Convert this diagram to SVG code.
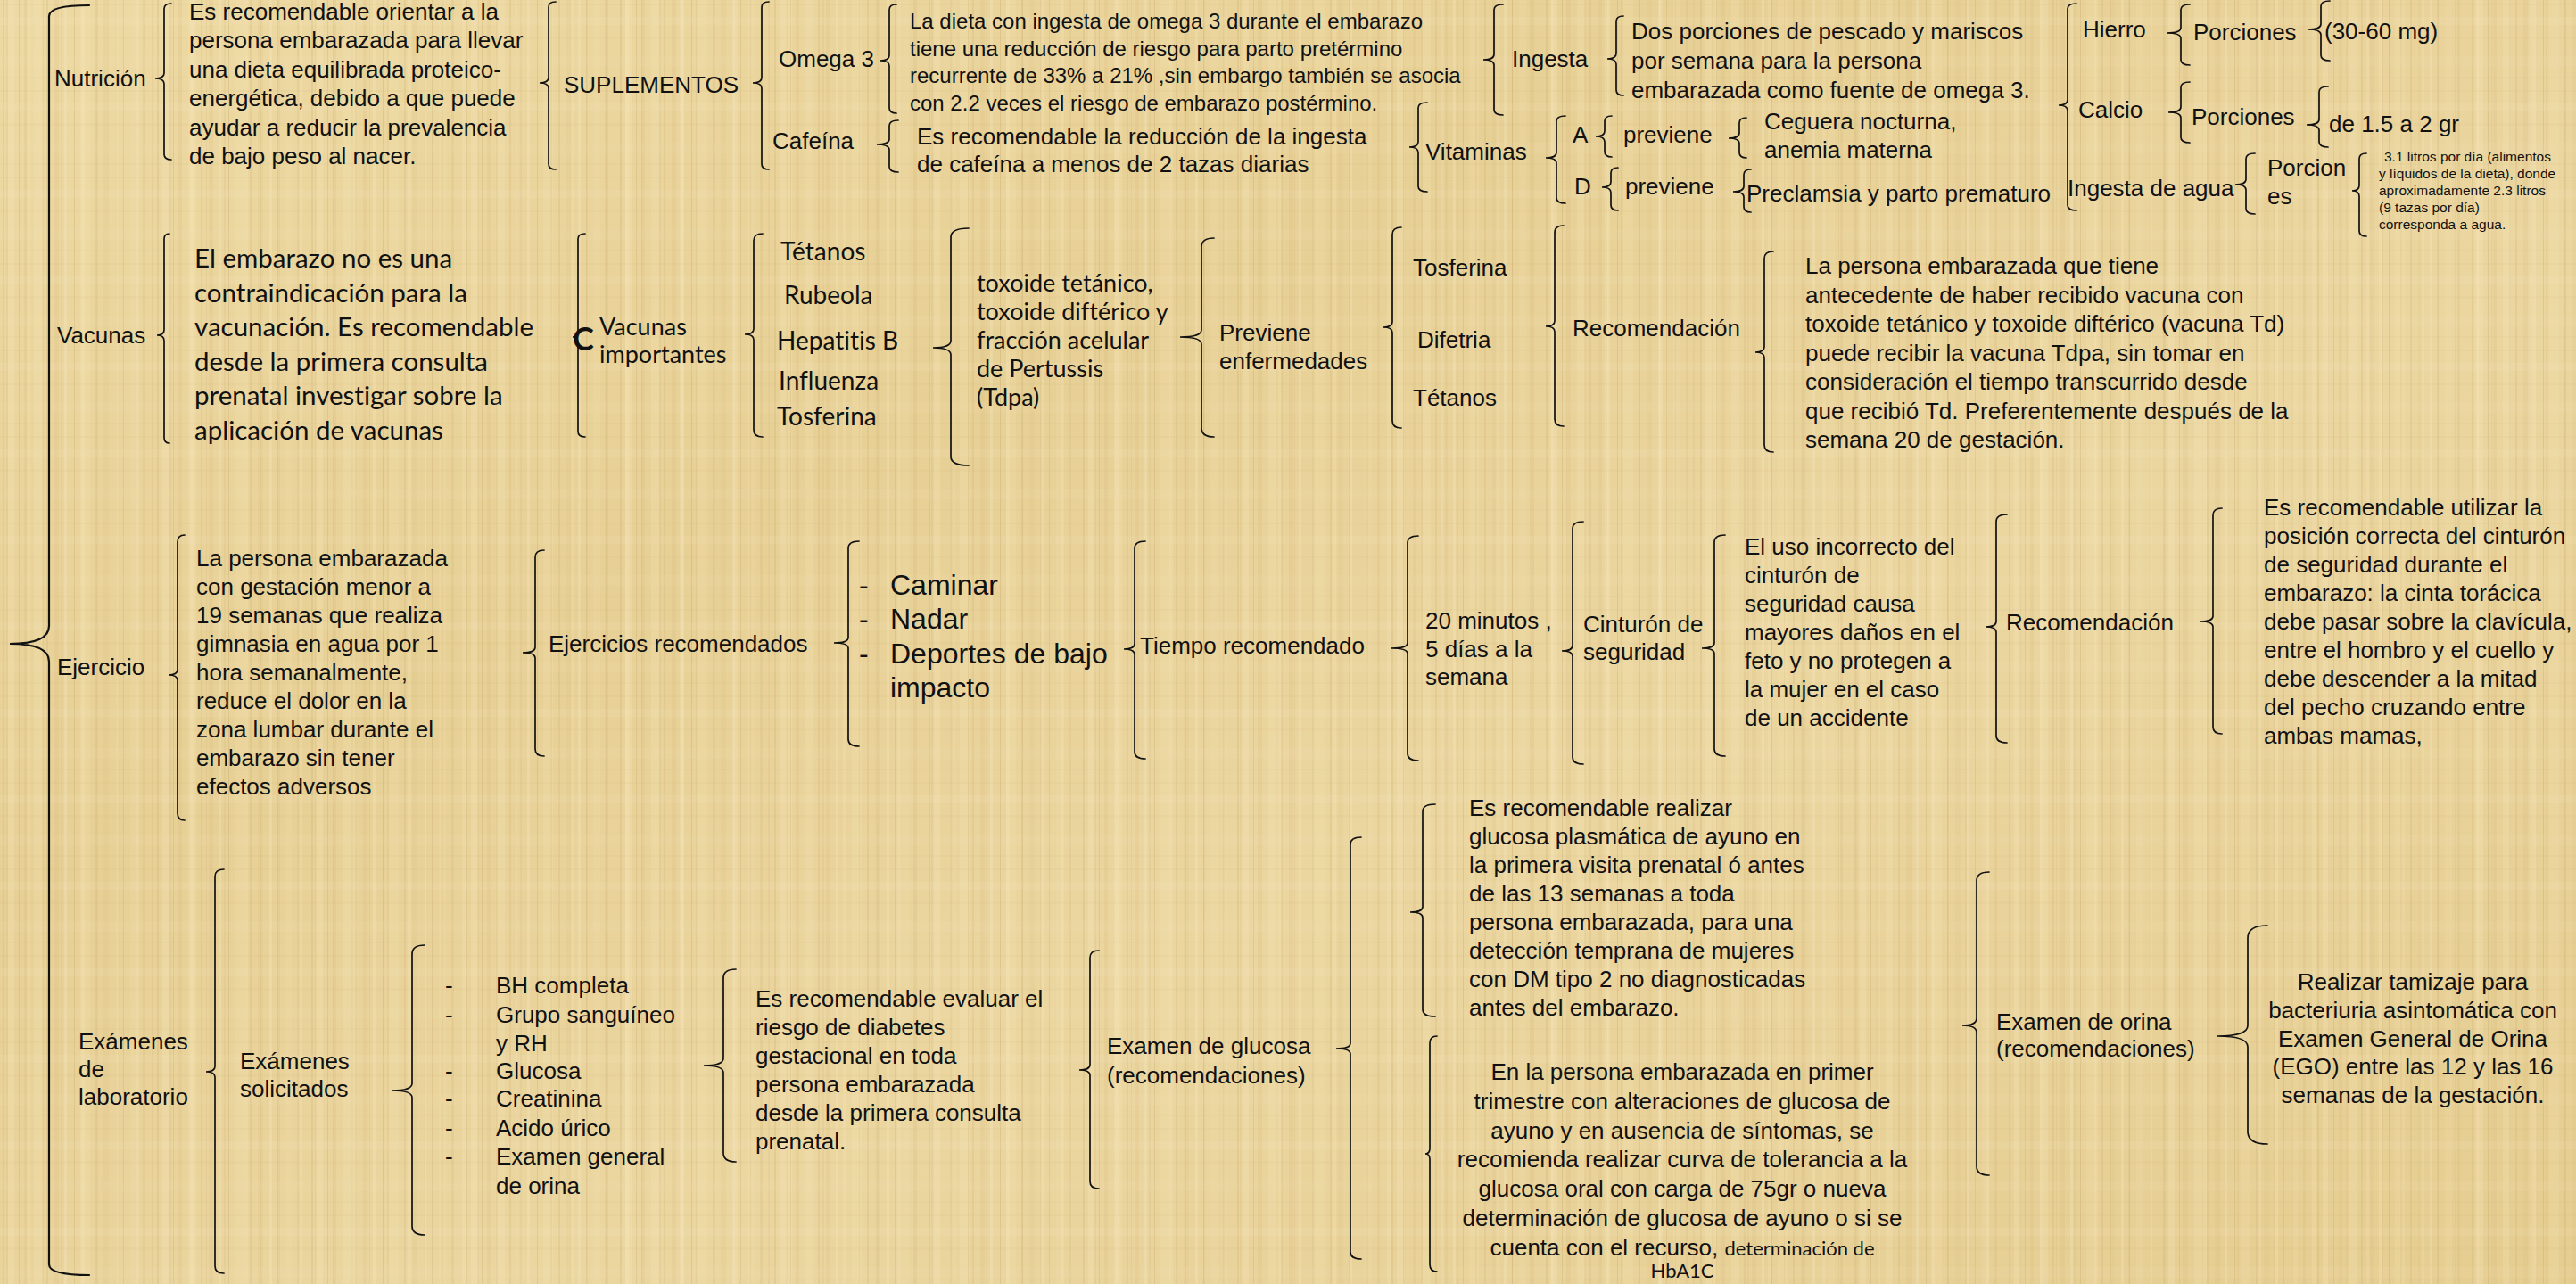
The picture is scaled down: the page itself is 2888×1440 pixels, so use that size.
<svg xmlns="http://www.w3.org/2000/svg" width="2888" height="1440" viewBox="0 0 2888 1440">
<defs>
<pattern id="pv" width="173" height="1440" patternUnits="userSpaceOnUse">
<rect x="3" width="2" height="1440" fill="#B8965A" opacity=".16"/>
<rect x="9" width="7" height="1440" fill="#F5E6BC" opacity=".3"/>
<rect x="21" width="1" height="1440" fill="#A9874D" opacity=".18"/>
<rect x="27" width="4" height="1440" fill="#D2B477" opacity=".18"/>
<rect x="38" width="9" height="1440" fill="#F3E3B5" opacity=".26"/>
<rect x="52" width="2" height="1440" fill="#B89558" opacity=".14"/>
<rect x="61" width="5" height="1440" fill="#CDAE70" opacity=".14"/>
<rect x="72" width="3" height="1440" fill="#F7EAC4" opacity=".3"/>
<rect x="83" width="1" height="1440" fill="#A07E46" opacity=".18"/>
<rect x="90" width="11" height="1440" fill="#F1E0AF" opacity=".24"/>
<rect x="107" width="2" height="1440" fill="#BE9C5F" opacity=".16"/>
<rect x="116" width="6" height="1440" fill="#D6B97D" opacity=".16"/>
<rect x="129" width="3" height="1440" fill="#F6E8C0" opacity=".3"/>
<rect x="138" width="1" height="1440" fill="#A8864C" opacity=".16"/>
<rect x="146" width="8" height="1440" fill="#EEDCA8" opacity=".26"/>
<rect x="160" width="3" height="1440" fill="#C7A769" opacity=".16"/>
</pattern>
<pattern id="pv2" width="61" height="1440" patternUnits="userSpaceOnUse">
<rect x="7" width="2" height="1440" fill="#C2A164" opacity=".1"/>
<rect x="30" width="4" height="1440" fill="#FAF0D0" opacity=".15"/>
<rect x="48" width="1" height="1440" fill="#B08E52" opacity=".1"/>
</pattern>
<pattern id="ph" width="2888" height="97" patternUnits="userSpaceOnUse">
<rect y="4" width="2888" height="2" fill="#B8965A" opacity=".06"/>
<rect y="19" width="2888" height="9" fill="#F8ECC8" opacity=".12"/>
<rect y="41" width="2888" height="3" fill="#C4A366" opacity=".05"/>
<rect y="63" width="2888" height="12" fill="#F5E6BC" opacity=".1"/>
<rect y="86" width="2888" height="2" fill="#B8965A" opacity=".05"/>
</pattern>
<linearGradient id="gl" x1="0" y1="0" x2="1" y2="1">
<stop offset="0" stop-color="#EDD9A3"/>
<stop offset=".35" stop-color="#E7D095"/>
<stop offset=".6" stop-color="#EBD6A0"/>
<stop offset="1" stop-color="#E5CD90"/>
</linearGradient>
<style>
.t{font-family:"Liberation Sans",Arial,sans-serif;font-size:26px;fill:#111}
.s{font-family:"Liberation Sans",Arial,sans-serif;font-size:24px;fill:#111}
.xs{font-family:"Liberation Sans",Arial,sans-serif;font-size:15.5px;fill:#111}
.big{font-family:"Liberation Sans",Arial,sans-serif;font-size:32px;fill:#111}
.c{font-family:Lato,"Open Sans",sans-serif;font-size:29.5px;fill:#111;font-variant-ligatures:none}
.cs{font-family:Lato,"Open Sans",sans-serif;font-size:22px;fill:#111}
.m{text-anchor:middle}
.b{fill:none;stroke:#111;stroke-width:1.7;stroke-linecap:round}
</style>
</defs>
<rect width="2888" height="1440" fill="url(#gl)"/>
<rect width="2888" height="1440" fill="url(#pv)"/>
<rect width="2888" height="1440" fill="url(#pv2)"/>
<rect width="2888" height="1440" fill="url(#ph)"/>

<g id="connectors" class="b">
<path d="M100,6 Q55,6 55,18 L55,702 Q55,722 11,722 Q55,722 55,742 L55,1418 Q55,1430 100,1430" stroke-width="2.2"/>
<path d="M192,4 Q184,4 184,10 L184,82 Q184,88 174,88 Q184,88 184,94 L184,173 Q184,179 192,179"/>
<path d="M623,2 Q615,2 615,8 L615,87 Q615,93 605,93 Q615,93 615,99 L615,184 Q615,190 623,190"/>
<path d="M862,2 Q854,2 854,8 L854,87 Q854,93 844,93 Q854,93 854,99 L854,184 Q854,190 862,190"/>
<path d="M1005,5 Q997,5 997,11 L997,62 Q997,68 987,68 Q997,68 997,74 L997,121 Q997,127 1005,127"/>
<path d="M1007,135 Q997,135 997,141 L997,156 Q997,162 983,162 Q997,162 997,168 L997,187 Q997,193 1007,193"/>
<path d="M1685,5 Q1675,5 1675,11 L1675,61 Q1675,67 1663,67 Q1675,67 1675,73 L1675,123 Q1675,129 1685,129"/>
<path d="M1820,18 Q1812,18 1812,24 L1812,60 Q1812,66 1802,66 Q1812,66 1812,72 L1812,101 Q1812,107 1820,107"/>
<path d="M1600,115 Q1590,115 1590,121 L1590,159 Q1590,165 1580,165 Q1590,165 1590,171 L1590,209 Q1590,215 1600,215"/>
<path d="M1755,130 Q1745,130 1745,136 L1745,171 Q1745,177 1733,177 Q1745,177 1745,183 L1745,222 Q1745,228 1755,228"/>
<path d="M1807,130 Q1799,130 1799,136 L1799,147 Q1799,153 1789,153 Q1799,153 1799,159 L1799,170 Q1799,176 1807,176"/>
<path d="M1958,132 Q1950,132 1950,138 L1950,149 Q1950,155 1938,155 Q1950,155 1950,161 L1950,171 Q1950,177 1958,177"/>
<path d="M1814,188 Q1806,188 1806,194 L1806,204 Q1806,210 1796,210 Q1806,210 1806,216 L1806,230 Q1806,236 1814,236"/>
<path d="M1963,190 Q1955,190 1955,196 L1955,209 Q1955,215 1943,215 Q1955,215 1955,221 L1955,232 Q1955,238 1963,238"/>
<path d="M2328,4 Q2318,4 2318,10 L2318,112 Q2318,118 2308,118 Q2318,118 2318,124 L2318,230 Q2318,236 2328,236"/>
<path d="M2455,5 Q2445,5 2445,11 L2445,31 Q2445,37 2429,37 Q2445,37 2445,43 L2445,67 Q2445,73 2455,73"/>
<path d="M2612,1 Q2602,1 2602,7 L2602,27 Q2602,33 2588,33 Q2602,33 2602,39 L2602,62 Q2602,68 2612,68"/>
<path d="M2455,92 Q2445,92 2445,98 L2445,120 Q2445,126 2431,126 Q2445,126 2445,132 L2445,154 Q2445,160 2455,160"/>
<path d="M2610,97 Q2600,97 2600,103 L2600,134 Q2600,140 2586,140 Q2600,140 2600,146 L2600,159 Q2600,165 2610,165"/>
<path d="M2528,172 Q2518,172 2518,178 L2518,201 Q2518,207 2506,207 Q2518,207 2518,213 L2518,234 Q2518,240 2528,240"/>
<path d="M2653,172 Q2645,172 2645,178 L2645,208 Q2645,214 2637,214 Q2645,214 2645,220 L2645,259 Q2645,265 2653,265"/>

<path d="M190,262 Q184,262 184,268 L184,370 Q184,376 176,376 Q184,376 184,382 L184,491 Q184,497 190,497"/>
<path d="M656,262 Q648,262 648,268 L648,372 Q648,378 642,378 Q648,378 648,384 L648,484 Q648,490 656,490"/>
<path d="M855,262 Q845,262 845,270 L845,369 Q845,375 835,375 Q845,375 845,381 L845,482 Q845,490 855,490"/>
<path d="M1086,256 Q1066,256 1066,266 L1066,382 Q1066,390 1046,390 Q1066,390 1066,398 L1066,512 Q1066,522 1086,522"/>
<path d="M1361,267 Q1347,267 1347,277 L1347,370 Q1347,378 1323,378 Q1347,378 1347,386 L1347,480 Q1347,490 1361,490"/>
<path d="M1571,255 Q1561,255 1561,263 L1561,361 Q1561,367 1551,367 Q1561,367 1561,373 L1561,472 Q1561,480 1571,480"/>
<path d="M1753,253 Q1743,253 1743,261 L1743,360 Q1743,366 1733,366 Q1743,366 1743,372 L1743,470 Q1743,478 1753,478"/>
<path d="M1988,282 Q1978,282 1978,290 L1978,389 Q1978,395 1968,395 Q1978,395 1978,401 L1978,499 Q1978,507 1988,507"/>

<path d="M207,600 Q199,600 199,608 L199,751 Q199,757 189,757 Q199,757 199,763 L199,912 Q199,920 207,920"/>
<path d="M610,617 Q600,617 600,625 L600,726 Q600,732 586,732 Q600,732 600,738 L600,840 Q600,848 610,848"/>
<path d="M963,607 Q951,607 951,615 L951,715 Q951,721 935,721 Q951,721 951,727 L951,829 Q951,837 963,837"/>
<path d="M1284,607 Q1272,607 1272,615 L1272,722 Q1272,728 1260,728 Q1272,728 1272,734 L1272,843 Q1272,851 1284,851"/>
<path d="M1590,601 Q1578,601 1578,609 L1578,721 Q1578,727 1560,727 Q1578,727 1578,733 L1578,845 Q1578,853 1590,853"/>
<path d="M1775,585 Q1763,585 1763,593 L1763,724 Q1763,730 1751,730 Q1763,730 1763,736 L1763,849 Q1763,857 1775,857"/>
<path d="M1934,600 Q1922,600 1922,608 L1922,721 Q1922,727 1908,727 Q1922,727 1922,733 L1922,840 Q1922,848 1934,848"/>
<path d="M2250,577 Q2238,577 2238,585 L2238,697 Q2238,703 2226,703 Q2238,703 2238,709 L2238,825 Q2238,833 2250,833"/>
<path d="M2491,570 Q2481,570 2481,578 L2481,691 Q2481,697 2467,697 Q2481,697 2481,703 L2481,815 Q2481,823 2491,823"/>

<path d="M251,975 Q241,975 241,983 L241,1196 Q241,1202 231,1202 Q241,1202 241,1208 L241,1420 Q241,1428 251,1428"/>
<path d="M476,1060 Q462,1060 462,1070 L462,1215 Q462,1223 440,1223 Q462,1223 462,1231 L462,1375 Q462,1385 476,1385"/>
<path d="M825,1087 Q811,1087 811,1097 L811,1187 Q811,1195 789,1195 Q811,1195 811,1203 L811,1293 Q811,1303 825,1303"/>
<path d="M1232,1066 Q1222,1066 1222,1074 L1222,1194 Q1222,1200 1210,1200 Q1222,1200 1222,1206 L1222,1325 Q1222,1333 1232,1333"/>
<path d="M1526,939 Q1514,939 1514,947 L1514,1170 Q1514,1176 1498,1176 Q1514,1176 1514,1182 L1514,1404 Q1514,1412 1526,1412"/>
<path d="M1609,902 Q1595,902 1595,910 L1595,1017 Q1595,1023 1581,1023 Q1595,1023 1595,1029 L1595,1132 Q1595,1140 1609,1140"/>
<path d="M1611,1162 Q1603,1162 1603,1170 L1603,1288 Q1603,1294 1598,1294 Q1603,1294 1603,1300 L1603,1418 Q1603,1426 1611,1426"/>
<path d="M2230,978 Q2216,978 2216,988 L2216,1142 Q2216,1150 2200,1150 Q2216,1150 2216,1158 L2216,1308 Q2216,1318 2230,1318"/>
<path d="M2542,1038 Q2520,1038 2520,1052 L2520,1150 Q2520,1162 2486,1162 Q2520,1162 2520,1174 L2520,1269 Q2520,1283 2542,1283"/>
</g>

<g id="n-nutricion"><text class="t" x="61" y="97">Nutrición</text></g>
<g id="n-nutricion-desc"><text class="t" x="212" y="22"><tspan x="212">Es recomendable orientar a la</tspan><tspan x="212" dy="32.4">persona embarazada para llevar</tspan><tspan x="212" dy="32.4">una dieta equilibrada proteico-</tspan><tspan x="212" dy="32.4">energética, debido a que puede</tspan><tspan x="212" dy="32.4">ayudar a reducir la prevalencia</tspan><tspan x="212" dy="32.4">de bajo peso al nacer.</tspan></text></g>
<g id="n-suplementos"><text class="t" x="632" y="104">SUPLEMENTOS</text></g>
<g id="n-omega"><text class="t" x="873" y="75">Omega 3</text></g>
<g id="n-cafeina"><text class="t" x="866" y="167">Cafeína</text></g>
<g id="n-omega-desc"><text class="s" x="1020" y="32"><tspan x="1020">La dieta con ingesta de omega 3 durante el embarazo</tspan><tspan x="1020" dy="30.7">tiene una reducción de riesgo para parto pretérmino</tspan><tspan x="1020" dy="30.7">recurrente de 33% a 21% ,sin embargo también se asocia</tspan><tspan x="1020" dy="30.7">con 2.2 veces el riesgo de embarazo postérmino.</tspan></text></g>
<g id="n-cafeina-desc"><text class="t" x="1028" y="162"><tspan x="1028">Es recomendable la reducción de la ingesta</tspan><tspan x="1028" dy="31">de cafeína a menos de 2 tazas diarias</tspan></text></g>
<g id="n-ingesta"><text class="t" x="1695" y="75">Ingesta</text></g>
<g id="n-ingesta-desc"><text class="t" x="1829" y="44"><tspan x="1829">Dos porciones de pescado y mariscos</tspan><tspan x="1829" dy="33">por semana para la persona</tspan><tspan x="1829" dy="33">embarazada como fuente de omega 3.</tspan></text></g>
<g id="n-vitaminas"><text class="t" x="1598" y="179">Vitaminas</text></g>
<g id="n-vit-a"><text class="t" x="1763" y="160">A</text></g>
<g id="n-a-previene"><text class="t" x="1820" y="160">previene</text></g>
<g id="n-a-desc"><text class="t" x="1978" y="145"><tspan x="1978">Ceguera nocturna,</tspan><tspan x="1978" dy="32">anemia materna</tspan></text></g>
<g id="n-vit-d"><text class="t" x="1765" y="218">D</text></g>
<g id="n-d-previene"><text class="t" x="1822" y="218">previene</text></g>
<g id="n-d-desc"><text class="t" x="1958" y="226">Preclamsia y parto prematuro</text></g>
<g id="n-hierro"><text class="t" x="2335" y="42">Hierro</text></g>
<g id="n-hierro-porc"><text class="t" x="2459" y="45">Porciones</text></g>
<g id="n-hierro-val"><text class="t" x="2606" y="44">(30-60 mg)</text></g>
<g id="n-calcio"><text class="t" x="2330" y="132">Calcio</text></g>
<g id="n-calcio-porc"><text class="t" x="2457" y="140">Porciones</text></g>
<g id="n-calcio-val"><text class="t" x="2611" y="148">de 1.5 a 2 gr</text></g>
<g id="n-agua"><text class="t" x="2318" y="220">Ingesta de agua</text></g>
<g id="n-agua-porc"><text class="t" x="2542" y="197"><tspan x="2542">Porcion</tspan><tspan x="2542" dy="32">es</tspan></text></g>
<g id="n-agua-val"><text class="xs" x="2667" y="181"><tspan x="2673">3.1 litros por día (alimentos</tspan><tspan x="2667" dy="19">y líquidos de la dieta), donde</tspan><tspan x="2667" dy="19">aproximadamente  2.3 litros</tspan><tspan x="2667" dy="19">(9 tazas por día)</tspan><tspan x="2667" dy="19">corresponda a agua.</tspan></text></g>

<g id="n-vacunas"><text class="t" x="64" y="385">Vacunas</text></g>
<g id="n-vacunas-desc"><text class="c" x="218" y="300"><tspan x="218">El embarazo no es una</tspan><tspan x="218" dy="38.6">contraindicación para la</tspan><tspan x="218" dy="38.6">vacunación. Es recomendable</tspan><tspan x="218" dy="38.6">desde la primera consulta</tspan><tspan x="218" dy="38.6">prenatal investigar sobre la</tspan><tspan x="218" dy="38.6">aplicación de vacunas</tspan></text></g>
<g id="n-c"><text class="c" x="642" y="393" style="font-size:36px;font-weight:bold">C</text></g>
<g id="n-vacunas-imp"><text class="c" x="672" y="376" style="font-size:27px"><tspan x="672">Vacunas</tspan><tspan x="672" dy="31">importantes</tspan></text></g>
<g id="n-vac-list"><text class="c" style="font-size:28px"><tspan x="875" y="292">Tétanos</tspan><tspan x="879" y="341">Rubeola</tspan><tspan x="871" y="392">Hepatitis B</tspan><tspan x="873" y="437">Influenza</tspan><tspan x="871" y="477">Tosferina</tspan></text></g>
<g id="n-tdpa"><text class="c" x="1095" y="327" style="font-size:27px"><tspan x="1095">toxoide tetánico,</tspan><tspan x="1095" dy="32">toxoide diftérico y</tspan><tspan x="1095" dy="32">fracción acelular</tspan><tspan x="1095" dy="32">de Pertussis</tspan><tspan x="1095" dy="32">(Tdpa)</tspan></text></g>
<g id="n-previene"><text class="t" x="1367" y="382"><tspan x="1367">Previene</tspan><tspan x="1367" dy="32">enfermedades</tspan></text></g>
<g id="n-enfermedades"><text class="t"><tspan x="1584" y="309">Tosferina</tspan><tspan x="1589" y="390">Difetria</tspan><tspan x="1584" y="455">Tétanos</tspan></text></g>
<g id="n-recomendacion1"><text class="t" x="1763" y="377">Recomendación</text></g>
<g id="n-recomendacion1-desc"><text class="t" x="2024" y="307"><tspan x="2024">La persona embarazada que tiene</tspan><tspan x="2024" dy="32.5">antecedente de haber recibido vacuna con</tspan><tspan x="2024" dy="32.5">toxoide tetánico y toxoide diftérico (vacuna Td)</tspan><tspan x="2024" dy="32.5">puede recibir la vacuna Tdpa, sin tomar en</tspan><tspan x="2024" dy="32.5">consideración el tiempo transcurrido desde</tspan><tspan x="2024" dy="32.5">que recibió Td. Preferentemente después de la</tspan><tspan x="2024" dy="32.5">semana 20 de gestación.</tspan></text></g>

<g id="n-ejercicio"><text class="t" x="64" y="757">Ejercicio</text></g>
<g id="n-ejercicio-desc"><text class="t" x="220" y="635"><tspan x="220">La persona embarazada</tspan><tspan x="220" dy="32">con gestación menor a</tspan><tspan x="220" dy="32">19 semanas que realiza</tspan><tspan x="220" dy="32">gimnasia en agua por 1</tspan><tspan x="220" dy="32">hora semanalmente,</tspan><tspan x="220" dy="32">reduce el dolor en la</tspan><tspan x="220" dy="32">zona lumbar durante el</tspan><tspan x="220" dy="32">embarazo sin tener</tspan><tspan x="220" dy="32">efectos adversos</tspan></text></g>
<g id="n-ejercicios-rec"><text class="t" x="615" y="731">Ejercicios recomendados</text></g>
<g id="n-ejercicios-list"><text class="big"><tspan x="963" y="667">-</tspan><tspan x="998" y="667">Caminar</tspan><tspan x="963" y="705">-</tspan><tspan x="998" y="705">Nadar</tspan><tspan x="963" y="744">-</tspan><tspan x="998" y="744">Deportes de bajo</tspan><tspan x="998" y="782">impacto</tspan></text></g>
<g id="n-tiempo"><text class="t" x="1278" y="733">Tiempo recomendado</text></g>
<g id="n-tiempo-val"><text class="t" x="1598" y="705"><tspan x="1598">20 minutos ,</tspan><tspan x="1598" dy="31.5">5 días a la</tspan><tspan x="1598" dy="31.5">semana</tspan></text></g>
<g id="n-cinturon"><text class="t" x="1775" y="709"><tspan x="1775">Cinturón de</tspan><tspan x="1775" dy="31">seguridad</tspan></text></g>
<g id="n-cinturon-desc"><text class="t" x="1956" y="622"><tspan x="1956">El uso incorrecto del</tspan><tspan x="1956" dy="32">cinturón de</tspan><tspan x="1956" dy="32">seguridad causa</tspan><tspan x="1956" dy="32">mayores daños en el</tspan><tspan x="1956" dy="32">feto y no protegen a</tspan><tspan x="1956" dy="32">la mujer en el caso</tspan><tspan x="1956" dy="32">de un accidente</tspan></text></g>
<g id="n-recomendacion2"><text class="t" x="2249" y="707">Recomendación</text></g>
<g id="n-recomendacion2-desc"><text class="t" x="2538" y="578"><tspan x="2538">Es recomendable utilizar la</tspan><tspan x="2538" dy="32">posición correcta del cinturón</tspan><tspan x="2538" dy="32">de seguridad durante el</tspan><tspan x="2538" dy="32">embarazo: la cinta torácica</tspan><tspan x="2538" dy="32">debe pasar sobre la clavícula,</tspan><tspan x="2538" dy="32">entre el hombro y el cuello y</tspan><tspan x="2538" dy="32">debe descender a la mitad</tspan><tspan x="2538" dy="32">del pecho cruzando entre</tspan><tspan x="2538" dy="32">ambas mamas,</tspan></text></g>

<g id="n-examenes"><text class="t" x="88" y="1177"><tspan x="88">Exámenes</tspan><tspan x="88" dy="31">de</tspan><tspan x="88" dy="31">laboratorio</tspan></text></g>
<g id="n-solicitados"><text class="t" x="269" y="1199"><tspan x="269">Exámenes</tspan><tspan x="269" dy="31">solicitados</tspan></text></g>
<g id="n-lab-list"><text class="t"><tspan x="499" y="1114">-</tspan><tspan x="556" y="1114">BH completa</tspan><tspan x="499" y="1147">-</tspan><tspan x="556" y="1147">Grupo sanguíneo</tspan><tspan x="556" y="1179">y RH</tspan><tspan x="499" y="1210">-</tspan><tspan x="556" y="1210">Glucosa</tspan><tspan x="499" y="1241">-</tspan><tspan x="556" y="1241">Creatinina</tspan><tspan x="499" y="1274">-</tspan><tspan x="556" y="1274">Acido úrico</tspan><tspan x="499" y="1306">-</tspan><tspan x="556" y="1306">Examen general</tspan><tspan x="556" y="1339">de orina</tspan></text></g>
<g id="n-diabetes"><text class="t" x="847" y="1129"><tspan x="847">Es recomendable evaluar el</tspan><tspan x="847" dy="32">riesgo de diabetes</tspan><tspan x="847" dy="32">gestacional en toda</tspan><tspan x="847" dy="32">persona embarazada</tspan><tspan x="847" dy="32">desde la primera consulta</tspan><tspan x="847" dy="32">prenatal.</tspan></text></g>
<g id="n-glucosa"><text class="t" x="1241" y="1182"><tspan x="1241">Examen de glucosa</tspan><tspan x="1241" dy="33">(recomendaciones)</tspan></text></g>
<g id="n-glucosa-1"><text class="t" x="1647" y="915"><tspan x="1647">Es recomendable realizar</tspan><tspan x="1647" dy="32">glucosa plasmática de ayuno en</tspan><tspan x="1647" dy="32">la primera visita prenatal ó antes</tspan><tspan x="1647" dy="32">de las 13 semanas a toda</tspan><tspan x="1647" dy="32">persona embarazada, para una</tspan><tspan x="1647" dy="32">detección temprana de mujeres</tspan><tspan x="1647" dy="32">con DM tipo 2 no diagnosticadas</tspan><tspan x="1647" dy="32">antes del embarazo.</tspan></text></g>
<g id="n-glucosa-2"><text class="t m" x="1886" y="1211"><tspan x="1886">En la persona embarazada en primer</tspan><tspan x="1886" dy="32.8">trimestre con alteraciones de glucosa de</tspan><tspan x="1886" dy="32.8">ayuno y en ausencia de síntomas, se</tspan><tspan x="1886" dy="32.8">recomienda realizar curva de tolerancia a la</tspan><tspan x="1886" dy="32.8">glucosa oral con carga de 75gr o nueva</tspan><tspan x="1886" dy="32.8">determinación de glucosa de ayuno o si se</tspan><tspan x="1886" dy="32.8">cuenta con el recurso, <tspan class="cs">determinación de</tspan></tspan></text><text class="cs m" x="1886" y="1433">HbA1C</text></g>
<g id="n-orina"><text class="t" x="2238" y="1155"><tspan x="2238">Examen de orina</tspan><tspan x="2238" dy="30">(recomendaciones)</tspan></text></g>
<g id="n-orina-desc"><text class="t m" x="2705" y="1110"><tspan x="2705">Realizar tamizaje para</tspan><tspan x="2705" dy="31.8">bacteriuria asintomática con</tspan><tspan x="2705" dy="31.8">Examen General de Orina</tspan><tspan x="2705" dy="31.8">(EGO) entre las 12 y las 16</tspan><tspan x="2705" dy="31.8">semanas de la gestación.</tspan></text></g>
</svg>
